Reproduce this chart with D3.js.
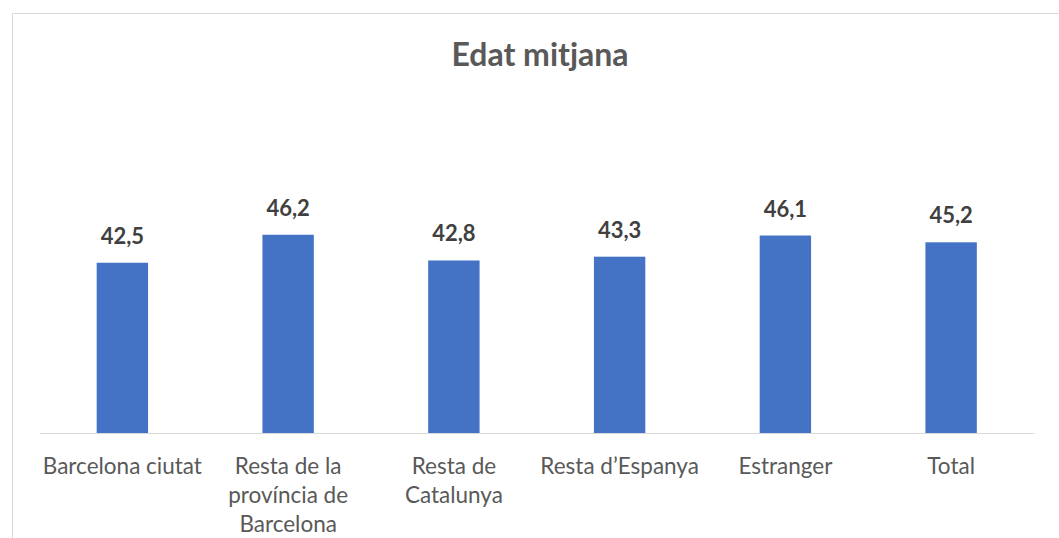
<!DOCTYPE html>
<html><head><meta charset="utf-8">
<script src="https://cdn.jsdelivr.net/npm/d3@7"></script>
<style>
html,body{margin:0;padding:0;background:#fff;}
svg{display:block;}
</style>
</head><body>
<svg id="chart" width="1059" height="538"></svg>
<script>
const title = "Edat mitjana";
const categories = ["Barcelona ciutat", "Resta de la|província de|Barcelona", "Resta de|Catalunya", "Resta d\u2019Espanya", "Estranger", "Total"];
const values = [42.5, 46.2, 42.8, 43.3, 46.1, 45.2];
const yDomain = [20, 50];

const svg = d3.select("#chart");
const W = 1059, H = 538;
const font = "Lato, 'Open Sans', sans-serif";

// chart frame
svg.append("line").attr("x1", 12.5).attr("x2", W).attr("y1", 13.5).attr("y2", 13.5)
  .attr("stroke", "#d9d9d9").attr("stroke-width", 1);
svg.append("line").attr("x1", 12.5).attr("x2", 12.5).attr("y1", 13.5).attr("y2", H)
  .attr("stroke", "#d9d9d9").attr("stroke-width", 1);

const x = d3.scaleBand().domain(categories).range([39.5, 1034]).paddingInner(0.69).paddingOuter(0.345);
const y = d3.scaleLinear().domain(yDomain).range([433, 206]);

const loc = d3.formatLocale({decimal: ",", thousands: ".", grouping: [3], currency: ["", "€"]});
const fmt = loc.format(".1f");

// title
svg.append("text").attr("x", 540).attr("y", 66).attr("text-anchor", "middle")
  .attr("font-family", font).attr("font-size", 32).attr("font-weight", 700)
  .attr("fill", "#595959").text(title);

// bars
svg.append("g").selectAll("rect").data(values).join("rect")
  .attr("x", (d, i) => x(categories[i]))
  .attr("width", x.bandwidth())
  .attr("y", d => y(d))
  .attr("height", d => y(yDomain[0]) - y(d))
  .attr("fill", "#4472C4");

// value labels
svg.append("g").selectAll("text").data(values).join("text")
  .attr("x", (d, i) => x(categories[i]) + x.bandwidth() / 2)
  .attr("y", d => y(d) - 19)
  .attr("text-anchor", "middle")
  .attr("font-family", font).attr("font-size", 22).attr("font-weight", 700)
  .attr("fill", "#404040")
  .text(d => fmt(d));

// x axis
const xAxis = d3.axisBottom(x).tickSize(0).tickFormat("");
const gx = svg.append("g").attr("transform", `translate(0,${y(yDomain[0])})`).call(xAxis);
gx.select(".domain").attr("stroke", "#d9d9d9").attr("stroke-width", 1);
gx.selectAll(".tick").each(function(d) {
  const t = d3.select(this).append("text")
    .attr("text-anchor", "middle").attr("fill", "#595959")
    .attr("font-family", font).attr("font-size", 22.5);
  d.split("|").forEach((line, i) => {
    t.append("tspan").attr("x", 0).attr("y", 41 + i * 29).text(line);
  });
});
</script>
</body></html>
